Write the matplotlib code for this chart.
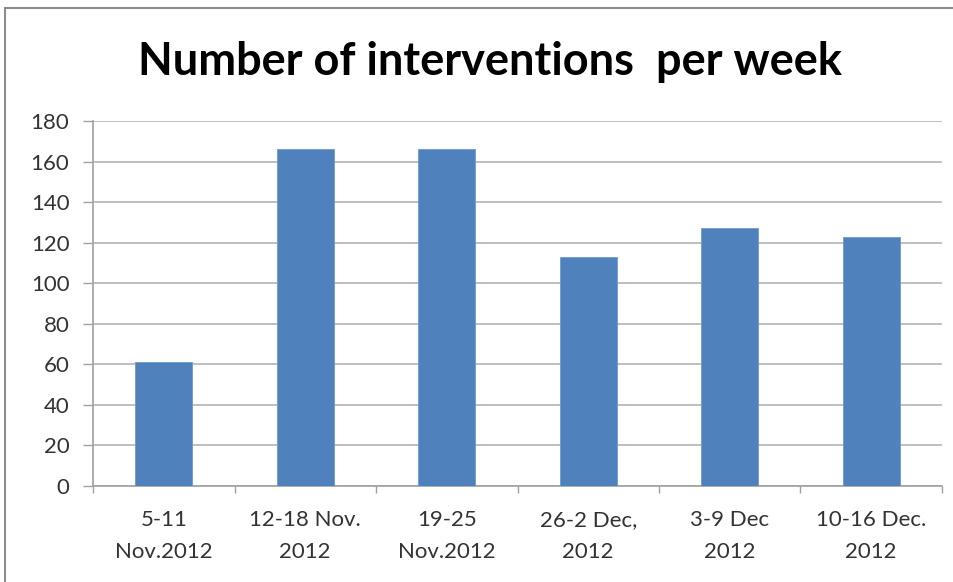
import matplotlib
matplotlib.use("Agg")
import matplotlib.pyplot as plt
from matplotlib.patches import Rectangle

weeks = ["5-11\nNov.2012", "12-18 Nov.\n2012", "19-25\nNov.2012",
         "26-2 Dec,\n2012", "3-9 Dec\n2012", "10-16 Dec.\n2012"]
interventions = [61, 166, 166, 113, 127, 123]
y_ticks = [0, 20, 40, 60, 80, 100, 120, 140, 160, 180]

plt.rcParams['font.family'] = ['Lato', 'DejaVu Sans']

fig = plt.figure(figsize=(9.54, 5.82), dpi=100)
# outer chart border (right and bottom edges are cut off in the source)
fig.patches.append(Rectangle((5 / 954, -0.05), 1.1, 1.05 - 8 / 582, transform=fig.transFigure,
                             fill=False, edgecolor='#8c8c8c', linewidth=1.5))

ax = fig.add_axes([93 / 954, 1 - 486 / 582, (942 - 93) / 954, (486 - 121) / 582])
x = range(len(weeks))
ax.bar(x, interventions, width=0.4, color='#4F81BD', edgecolor='#6f9bd1', linewidth=0.6, zorder=3)

ax.set_xlim(-0.5, len(weeks) - 0.5)
ax.set_ylim(0, 180)
ax.set_yticks(y_ticks)
ax.set_xticks(list(x))
ax.set_xticklabels(weeks, fontsize=16, color='#333333', linespacing=1.75)
ax.tick_params(axis='x', length=0, pad=17)
ax.set_xticks([i - 0.5 for i in range(len(weeks) + 1)], minor=True)
ax.tick_params(axis='x', which='minor', length=5, color='#a0a0a0', width=1)
ax.tick_params(axis='y', labelsize=16, labelcolor='#333333', length=7, color='#a0a0a0', width=1, pad=10)
ax.grid(axis='y', color='#b4b4b4', linewidth=1.2, zorder=0)

for side in ['top', 'right']:
    ax.spines[side].set_visible(False)
ax.spines['left'].set_color('#a0a0a0')
ax.spines['bottom'].set_color('#a0a0a0')
ax.spines['left'].set_linewidth(1.2)
ax.spines['bottom'].set_linewidth(1.2)

fig.text(490 / 954, 1 - 62 / 582, "Number of interventions  per week", ha='center', va='center',
         fontsize=32.5, fontweight='bold', color='black')

fig.savefig("out.png", dpi=100)
